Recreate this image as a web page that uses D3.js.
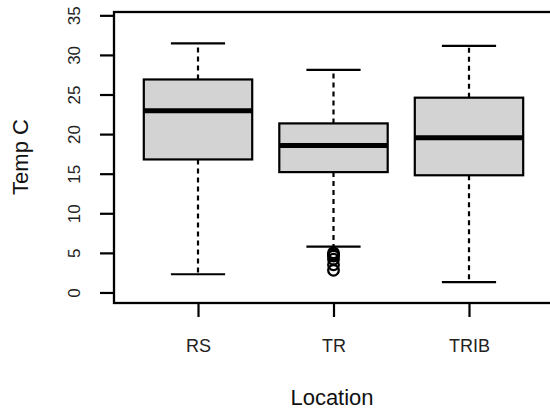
<!DOCTYPE html>
<html>
<head>
<meta charset="utf-8">
<script src="https://cdn.jsdelivr.net/npm/d3@7"></script>
<style>
  html, body { margin: 0; padding: 0; background: #fff; }
  svg { display: block; font-family: "Liberation Sans", Arial, sans-serif; }
</style>
</head>
<body>
<svg id="chart" width="550" height="409"></svg>
<script>
// Water temperature by sampling location
const locations = ["RS", "TR", "TRIB"];
const whiskerLow  = [2.3, 5.8, 1.3];
const quartile1   = [16.8, 15.2, 14.8];
const medians     = [22.95, 18.55, 19.55];
const quartile3   = [26.9, 21.35, 24.6];
const whiskerHigh = [31.45, 28.1, 31.15];
const outliers    = [[], [5.0, 4.8, 4.6, 4.2, 3.5, 2.8], []];
const yTicks      = [0, 5, 10, 15, 20, 25, 30, 35];

const svg = d3.select("#chart");
const plot = { left: 114, right: 553, top: 12, bottom: 303 };

// Category positions 1..n with the usual half-unit padding plus 4% extension
const x = d3.scaleLinear().domain([0.38, 3.62]).range([plot.left, plot.right]);
const y = d3.scaleLinear().domain([-1.33, 35.42]).range([plot.bottom, plot.top]);

const boxes = locations.map((name, i) => ({
  name, pos: i + 1,
  lo: whiskerLow[i], q1: quartile1[i], med: medians[i],
  q3: quartile3[i], hi: whiskerHigh[i], out: outliers[i]
}));

const boxHalf = 0.4, capHalf = 0.2;
const g = svg.append("g");

// Whiskers (dashed)
g.selectAll(".whisker-up").data(boxes).join("line")
  .attr("x1", d => x(d.pos)).attr("x2", d => x(d.pos))
  .attr("y1", d => y(d.q3)).attr("y2", d => y(d.hi))
  .attr("stroke", "#000").attr("stroke-width", 2.2).attr("stroke-dasharray", "5,4");
g.selectAll(".whisker-down").data(boxes).join("line")
  .attr("x1", d => x(d.pos)).attr("x2", d => x(d.pos))
  .attr("y1", d => y(d.q1)).attr("y2", d => y(d.lo))
  .attr("stroke", "#000").attr("stroke-width", 2.2).attr("stroke-dasharray", "5,4");

// Whisker caps
["hi", "lo"].forEach(k => {
  g.selectAll(".cap-" + k).data(boxes).join("line")
    .attr("x1", d => x(d.pos - capHalf)).attr("x2", d => x(d.pos + capHalf))
    .attr("y1", d => y(d[k])).attr("y2", d => y(d[k]))
    .attr("stroke", "#000").attr("stroke-width", 2.2);
});

// Boxes
g.selectAll(".box").data(boxes).join("rect")
  .attr("x", d => x(d.pos - boxHalf))
  .attr("width", d => x(d.pos + boxHalf) - x(d.pos - boxHalf))
  .attr("y", d => y(d.q3))
  .attr("height", d => y(d.q1) - y(d.q3))
  .attr("fill", "#d3d3d3").attr("stroke", "#000").attr("stroke-width", 2.2);

// Medians
g.selectAll(".median").data(boxes).join("line")
  .attr("x1", d => x(d.pos - boxHalf)).attr("x2", d => x(d.pos + boxHalf))
  .attr("y1", d => y(d.med)).attr("y2", d => y(d.med))
  .attr("stroke", "#000").attr("stroke-width", 5);

// Outliers
boxes.forEach(d => {
  g.selectAll(null).data(d.out).join("circle")
    .attr("cx", x(d.pos)).attr("cy", v => y(v)).attr("r", 5.3)
    .attr("fill", "none").attr("stroke", "#000").attr("stroke-width", 2.3);
});

// Frame
svg.append("rect")
  .attr("x", plot.left).attr("y", plot.top)
  .attr("width", plot.right - plot.left).attr("height", plot.bottom - plot.top)
  .attr("fill", "none").attr("stroke", "#000").attr("stroke-width", 2.3);

// Y axis
const yAxis = d3.axisLeft(y).tickValues(yTicks).tickSize(14).tickPadding(0).tickFormat(d3.format("d"));
const ya = svg.append("g").attr("transform", `translate(${plot.left},0)`).call(yAxis);
ya.select(".domain").remove();
ya.selectAll(".tick line").attr("stroke-width", 2.2).attr("stroke", "#000");
ya.selectAll(".tick text")
  .attr("x", 0).attr("dy", null)
  .attr("transform", "translate(-34,0) rotate(-90)")
  .attr("text-anchor", "middle")
  .attr("font-size", 17).attr("fill", "#222");

// X axis
const xAxis = d3.axisBottom(x).tickValues(boxes.map(d => d.pos))
  .tickSize(14).tickFormat((d, i) => locations[i]);
const xa = svg.append("g").attr("transform", `translate(0,${plot.bottom})`).call(xAxis);
xa.select(".domain").remove();
xa.selectAll(".tick line").attr("stroke-width", 2.2).attr("stroke", "#000");
xa.selectAll(".tick text")
  .attr("y", 49).attr("dy", null)
  .attr("font-size", 18).attr("fill", "#222");

// Axis titles
svg.append("text")
  .attr("x", (plot.left + 550) / 2).attr("y", 405)
  .attr("text-anchor", "middle").attr("font-size", 22).attr("fill", "#111")
  .text("Location");
svg.append("text")
  .attr("transform", `translate(28,157) rotate(-90)`)
  .attr("text-anchor", "middle").attr("font-size", 22).attr("fill", "#111")
  .text("Temp C");
</script>
</body>
</html>
